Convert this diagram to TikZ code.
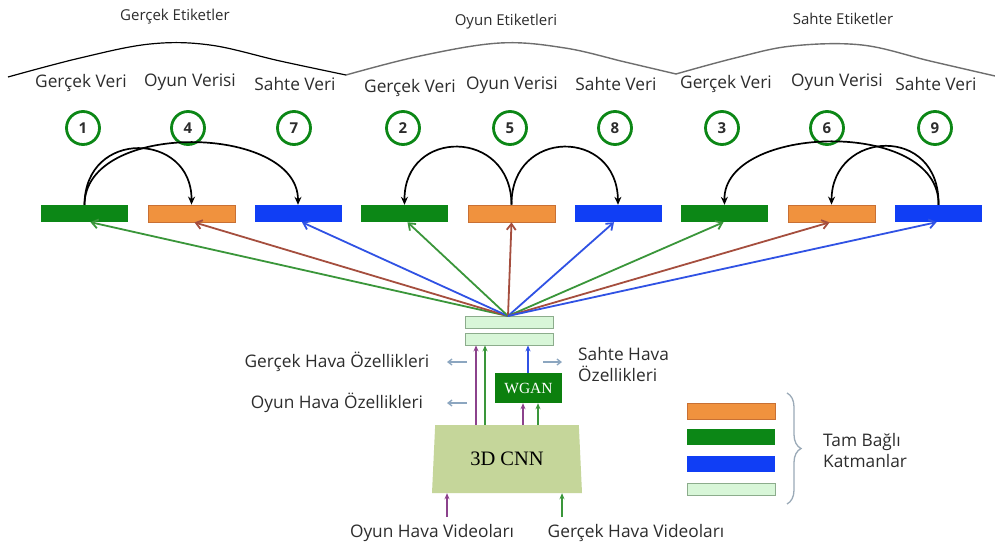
\documentclass[tikz,border=0pt]{standalone}
\usepackage{fontspec}
\setmainfont{Open Sans}
\newfontfamily\serifnet{Liberation Serif}
\usetikzlibrary{arrows.meta,shapes.geometric,decorations.pathreplacing,calc}
\definecolor{barGreen}{RGB}{12,135,22}
\definecolor{barOrange}{RGB}{240,146,62}
\definecolor{barOrangeEdge}{RGB}{200,112,52}
\definecolor{barBlue}{RGB}{16,62,245}
\definecolor{fcLight}{RGB}{216,246,216}
\definecolor{fcEdge}{RGB}{140,172,140}
\definecolor{cnnFill}{RGB}{197,214,154}
\definecolor{wganFill}{RGB}{12,128,14}
\definecolor{lnGreen}{RGB}{58,150,58}
\definecolor{lnBrown}{RGB}{165,78,62}
\definecolor{lnBlue}{RGB}{48,82,228}
\definecolor{lnPurple}{RGB}{140,66,140}
\definecolor{hint}{RGB}{140,166,192}
\definecolor{txt}{RGB}{45,45,45}
\definecolor{arcGray}{RGB}{110,110,110}
\begin{document}
\begin{tikzpicture}[x=1pt,y=-1pt,
  lbl/.style={text=txt,font=\fontsize{17.3}{19}\selectfont,inner sep=0},
  ttl/.style={text=txt,font=\fontsize{15}{17}\selectfont,inner sep=0},
  num/.style={circle,draw=barGreen,line width=2.8pt,minimum size=33pt,inner sep=0,
     text=txt,font=\fontsize{15}{17}\selectfont\bfseries},
  fcbar/.style={rectangle,minimum width=87pt,minimum height=17pt,inner sep=0},
  gbar/.style={fcbar,fill=barGreen},
  obar/.style={fcbar,fill=barOrange,draw=barOrangeEdge,line width=0.8pt},
  bbar/.style={fcbar,fill=barBlue},
  lbar/.style={fcbar,fill=fcLight,draw=fcEdge,line width=0.8pt},
  hop/.style={black,line width=1.7pt,-{Stealth[length=8pt,width=7pt]}},
  fan/.style={line width=1.8pt,-{Straight Barb[length=6pt,width=9pt]}},
  feed/.style={line width=1.6pt,-{Stealth[length=6pt,width=5pt]}},
  hintarrow/.style={hint,line width=1.3pt,-{Straight Barb[length=4pt,width=6pt]}}]
\useasboundingbox (0,0) rectangle (995,549);
\fill[white] (0,0) rectangle (995,549);

% group titles and the curves over each group
\node[ttl] (t1) at (175,17) {Gerçek Etiketler};
\node[ttl] (t2) at (506,22) {Oyun Etiketleri};
\node[ttl] (t3) at (843,19) {Sahte Etiketler};
\draw[black,line width=1.2pt] plot[smooth,tension=0.6] coordinates {(8,77) (80,58) (150,44) (210,45) (280,61) (346,75)};
\draw[arcGray,line width=1.4pt] plot[smooth,tension=0.6] coordinates {(346,75) (420,56) (500,43) (565,48) (625,62) (676,74)};
\draw[arcGray,line width=1.4pt] plot[smooth,tension=0.6] coordinates {(676,74) (735,58) (792,46) (862,45) (930,61) (995,76)};

% column labels
\node[lbl] (l1) at (81,83) {Gerçek Veri};
\node[lbl] (l2) at (190,82) {Oyun Verisi};
\node[lbl] (l3) at (295,84) {Sahte Veri};
\node[lbl] (l4) at (410,88) {Gerçek Veri};
\node[lbl] (l5) at (512,85) {Oyun Verisi};
\node[lbl] (l6) at (616,84) {Sahte Veri};
\node[lbl] (l7) at (726,84) {Gerçek Veri};
\node[lbl] (l8) at (837,82) {Oyun Verisi};
\node[lbl] (l9) at (936,84) {Sahte Veri};

% order numbers
\foreach \n/\x/\t in {1/83/1,2/188/4,3/294/7,4/403/2,5/510/5,6/615/8,7/722/3,8/827/6,9/935/9}
  \node[num] (c\n) at (\x,128) {\t};

% fully connected output layers
\node[gbar] (b1) at (84.5,213.5) {};
\node[obar] (b2) at (191.5,213.5) {};
\node[bbar] (b3) at (298,213.5) {};
\node[gbar] (b4) at (404.5,213.5) {};
\node[obar] (b5) at (511.5,213.5) {};
\node[bbar] (b6) at (618,213.5) {};
\node[gbar] (b7) at (724.5,213.5) {};
\node[obar] (b8) at (831.5,213.5) {};
\node[bbar] (b9) at (938.5,213.5) {};

% transfers between layers
\draw[hop] (b1.north) .. controls (85,128) and (192,132) .. (b2.north);
\draw[hop] (b1.north) .. controls (85,120) and (298,124) .. (b3.north);
\draw[hop] (b5.north) .. controls (511,128) and (404,128) .. (b4.north);
\draw[hop] (b5.north) .. controls (511,128) and (617,128) .. (b6.north);
\draw[hop] (b9.north) .. controls (940,118) and (723,124) .. (b7.north);
\draw[hop] (b9.north) .. controls (940,124) and (832,130) .. (b8.north);

% shared layers
\node[lbar,minimum width=88pt,minimum height=12pt] (fc1) at (509,322) {};
\node[lbar,minimum width=88pt,minimum height=12pt] (fc2) at (509,339) {};
\coordinate (hub) at (508,316);

% fan out to the output layers
\draw[fan,lnGreen] (hub) -- ([xshift=6pt]b1.south);
\draw[fan,lnBrown] (hub) -- ([xshift=3pt]b2.south);
\draw[fan,lnBlue]  (hub) -- ([xshift=4pt]b3.south);
\draw[fan,lnGreen] (hub) -- ([xshift=3pt]b4.south);
\draw[fan,lnBrown] (hub) -- (b5.south);
\draw[fan,lnBlue]  (hub) -- ([xshift=-4pt]b6.south);
\draw[fan,lnGreen] (hub) -- ([xshift=-1pt]b7.south);
\draw[fan,lnBrown] (hub) -- ([xshift=-2pt]b8.south);
\draw[fan,lnBlue]  (hub) -- ([xshift=-2pt]b9.south);

% feature extractor and generator
\node[trapezium,trapezium angle=77,trapezium stretches body,fill=cnnFill,
  minimum width=150pt,minimum height=68pt,inner sep=0,
  font=\serifnet\fontsize{20.5}{22}\selectfont] (cnn) at (507,459) {3D CNN};
\node[rectangle,fill=wganFill,minimum width=67pt,minimum height=30pt,inner sep=0,
  text=white,font=\serifnet\fontsize{15.5}{17}\selectfont] (wgan) at (528.5,388) {WGAN};

\draw[feed,lnPurple] (cnn.north -| 476,0) -- (fc2.south -| 476,0);
\draw[feed,lnGreen]  (cnn.north -| 485,0) -- (fc2.south -| 485,0);
\draw[feed,lnBlue]   (wgan.north -| 528,0) -- (fc2.south -| 528,0);
\draw[feed,lnPurple] (cnn.north -| 523,0) -- (wgan.south -| 523,0);
\draw[feed,lnGreen]  (cnn.north -| 538,0) -- (wgan.south -| 538,0);

% inputs
\node[lbl] (in1) at (432,533) {Oyun Hava Videoları};
\node[lbl] (in2) at (636,533) {Gerçek Hava Videoları};
\coordinate (s1) at (447,517);
\coordinate (s2) at (562,517);
\draw[feed,lnPurple] (s1) -- (cnn.south -| s1);
\draw[feed,lnGreen]  (s2) -- (cnn.south -| s2);

% feature labels
\node[lbl] (f1) at (337,362) {Gerçek Hava Özellikleri};
\node[lbl] (f2) at (337,403) {Oyun Hava Özellikleri};
\node[lbl,align=left,anchor=west] (f3) at (578,365) {Sahte Hava\\[2pt]Özellikleri};
\coordinate (h1) at (467,362);
\coordinate (h2) at (467,403);
\coordinate (h3) at (543,362);
\draw[hintarrow] (h1) -- (447,362);
\draw[hintarrow] (h2) -- (447,403);
\draw[hintarrow] (h3) -- (562,362);

% legend
\node[obar,minimum height=16pt,minimum width=88pt] (k1) at (731,411) {};
\node[gbar,minimum height=16pt,minimum width=88pt] (k2) at (731,437) {};
\node[bbar,minimum height=16pt,minimum width=88pt] (k3) at (731,464) {};
\node[lbar,minimum height=12pt,minimum width=88pt] (k4) at (731,489) {};
\draw[hint!80!black!70,line width=1.3pt,decorate,decoration={brace,amplitude=14pt}]
  (787,393) -- (787,504);
\node[lbl,align=left,anchor=west] (key) at (823,451) {Tam Bağlı\\[2pt]Katmanlar};
\end{tikzpicture}
\end{document}
